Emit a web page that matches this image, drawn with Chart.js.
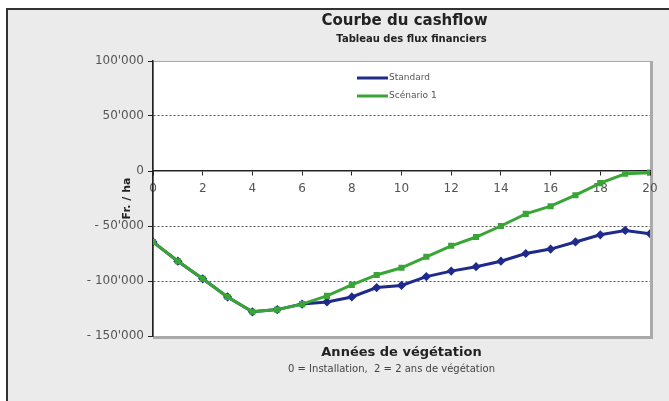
<!DOCTYPE html>
<html>
<head>
<meta charset="utf-8">
<script src="https://cdn.jsdelivr.net/npm/chart.js@4"></script>
<style>
  body { margin: 0; background: #fff; }
  #wrap { position: relative; width: 669px; height: 401px; }
</style>
</head>
<body>
<div id="wrap"><canvas id="myChart" width="669" height="401"></canvas></div>
<script>
// années 0..20
var years = [0,1,2,3,4,5,6,7,8,9,10,11,12,13,14,15,16,17,18,19,20];
var standard = [-64500,-82000,-98000,-114500,-128000,-126000,-121000,-119000,-114500,-106000,-104000,
                -96000,-91000,-87000,-82000,-75000,-71000,-64500,-58000,-54000,-57000];
var scenario1 = [-64500,-82000,-98000,-114500,-128000,-126000,-121000,-113500,-103500,-94500,-88000,
                 -78000,-68000,-60000,-50000,-39000,-32000,-22000,-11000,-2500,-1500];
var yTicks = [100000, 50000, 0, -50000, -100000, -150000];
var xTicks = [0,2,4,6,8,10,12,14,16,18,20];

var FONT = '"DejaVu Sans", Verdana, sans-serif';

function fmt(v) {
  var s = Math.abs(v).toString().replace(/\B(?=(\d{3})+(?!\d))/g, "'");
  return (v < 0 ? '- ' : '') + s;
}

function pts(arr) {
  return arr.map(function (v, i) { return {x: years[i], y: v}; });
}

// fond gris, cadre, zone de tracé blanche, textes
var frame = {
  id: 'frame',
  beforeDraw: function (chart) {
    var c = chart.ctx, a = chart.chartArea;
    c.save();
    c.fillStyle = '#fff';
    c.fillRect(0, 0, chart.width, chart.height);
    c.fillStyle = '#ebebeb';
    c.fillRect(6, 8, chart.width - 6, chart.height - 8);
    c.strokeStyle = '#333';
    c.lineWidth = 2;
    c.beginPath();
    c.moveTo(7, chart.height);
    c.lineTo(7, 9);
    c.lineTo(chart.width, 9);
    c.stroke();
    c.fillStyle = '#fff';
    c.fillRect(a.left, a.top, a.width, a.height);
    c.strokeStyle = '#a8a8a8';
    c.lineWidth = 1;
    c.strokeRect(a.left + 0.5, a.top + 0.5, a.width, a.height);
    c.fillStyle = '#aaa';
    c.fillRect(a.left, a.bottom, a.width + 3, 3);
    c.fillRect(a.right, a.top, 3, a.height + 3);
    c.restore();
  },
  afterDraw: function (chart) {
    var c = chart.ctx, a = chart.chartArea;
    var cx = (a.left + a.right) / 2;
    c.save();
    c.fillStyle = '#222';
    c.textAlign = 'center';
    c.textBaseline = 'middle';
    c.font = 'bold 15px ' + FONT;
    c.fillText('Courbe du cashflow', cx + 3, 21);
    c.font = 'bold 10px ' + FONT;
    c.fillText('Tableau des flux financiers', cx + 10, 39);
    c.font = 'bold 13px ' + FONT;
    c.fillText('Années de végétation', cx, 353);
    c.font = '10px ' + FONT;
    c.fillStyle = '#444';
    c.fillText('0 = Installation,  2 = 2 ans de végétation', cx - 10, 369);
    c.translate(127, (a.top + a.bottom) / 2);
    c.rotate(-Math.PI / 2);
    c.fillStyle = '#222';
    c.font = 'bold 11px ' + FONT;
    c.fillText('Fr. / ha', 0, 0);
    c.restore();

    // légende
    c.save();
    c.font = '9px ' + FONT;
    c.textBaseline = 'middle';
    c.textAlign = 'left';
    chart.data.datasets.forEach(function (ds, i) {
      var y = 78 + i * 18;
      c.strokeStyle = ds.borderColor;
      c.lineWidth = 3;
      c.beginPath();
      c.moveTo(357, y);
      c.lineTo(388, y);
      c.stroke();
      c.fillStyle = '#555';
      c.fillText(ds.label, 389, y);
    });
    c.restore();
  }
};

var ctx = document.getElementById('myChart');
var myChart = new Chart(ctx, {
  type: 'line',
  data: {
    datasets: [{
      label: 'Standard',
      data: pts(standard),
      borderColor: '#1f2a8a',
      backgroundColor: '#1f2a8a',
      borderWidth: 3,
      pointStyle: 'rectRot',
      pointRadius: 2.5,
      order: 1
    }, {
      label: 'Scénario 1',
      data: pts(scenario1),
      borderColor: '#3aa537',
      backgroundColor: '#3aa537',
      borderWidth: 3,
      pointStyle: 'rect',
      pointRadius: 2.2,
      order: 0
    }]
  },
  options: {
    responsive: false,
    animation: false,
    layout: { padding: { left: 0, top: 61, right: 19, bottom: 65 } },
    plugins: {
      legend: { display: false },
      title: { display: false },
      tooltip: { enabled: false }
    },
    scales: {
      x: {
        type: 'linear',
        position: { y: 0 },
        min: 0,
        max: 20,
        afterBuildTicks: function (s) { s.ticks = xTicks.map(function (v) { return {value: v}; }); },
        grid: { drawOnChartArea: false, drawTicks: true, tickLength: 4, tickColor: '#222' },
        border: { color: '#222', width: 1.5 },
        ticks: { color: '#555', font: { size: 12, family: FONT }, padding: 7, maxRotation: 0 }
      },
      y: {
        min: -150000,
        max: 100000,
        afterFit: function (s) { s.width = 153; },
        afterBuildTicks: function (s) { s.ticks = yTicks.map(function (v) { return {value: v}; }); },
        grid: {
          color: function (c) {
            var v = c.tick ? c.tick.value : null;
            if (v === 0) return 'rgba(0,0,0,0)';
            if (v === 100000 || v === -150000) return '#a8a8a8';
            return '#555';
          },
          tickColor: '#222',
          tickLength: 5,
          lineWidth: 1
        },
        border: {
          color: '#222',
          width: 1.5,
          dash: function (c) {
            var v = c.tick ? c.tick.value : null;
            return (v === 100000 || v === -150000) ? [] : [2, 2];
          }
        },
        ticks: {
          color: '#555',
          font: { size: 12, family: FONT },
          padding: 4,
          callback: function (v) { return fmt(v); }
        }
      }
    }
  },
  plugins: [frame]
});
</script>
</body>
</html>
